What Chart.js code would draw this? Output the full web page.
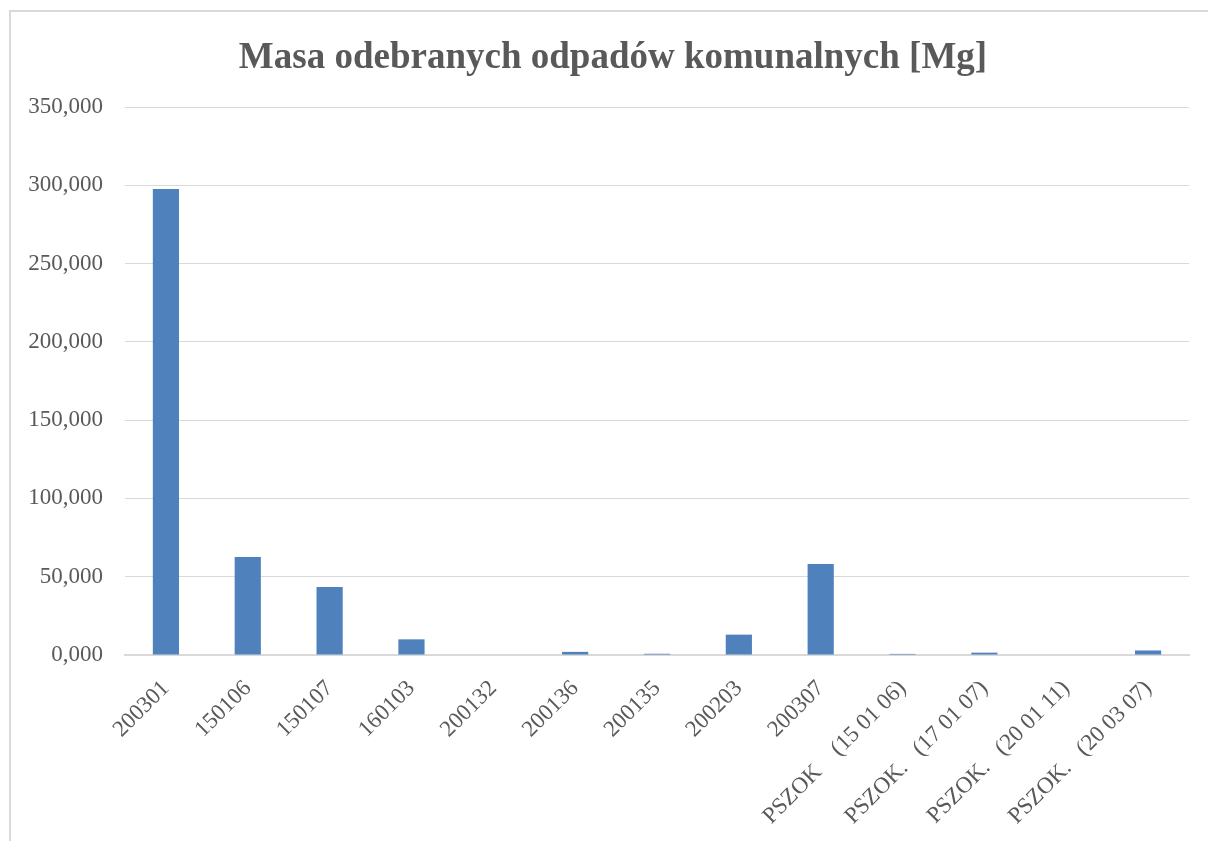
<!DOCTYPE html>
<html lang="pl">
<head>
<meta charset="utf-8">
<title>Masa odebranych odpadów komunalnych</title>
<script src="https://cdn.jsdelivr.net/npm/chart.js@4/dist/chart.umd.min.js"></script>
<style>
  html, body { margin: 0; padding: 0; background: #fff; overflow: hidden; }
  #wrap { position: relative; width: 1208px; height: 841px; overflow: hidden; }
  #frame {
    position: absolute; left: 9px; top: 10px; width: 1220px; height: 850px;
    border: 2px solid #d9d9d9; box-sizing: border-box; pointer-events: none;
  }
  #chart { position: absolute; left: 0; top: 0; }
</style>
</head>
<body>
<div id="wrap">
  <div id="frame"></div>
  <canvas id="chart" width="1208" height="841"></canvas>
</div>
<script>
// Kody odpadów (kategorie) i masa w Mg
const categories = [
  "200301", "150106", "150107", "160103", "200132", "200136", "200135",
  "200203", "200307",
  "PSZOK    (15 01 06)", "PSZOK.   (17 01 07)", "PSZOK.   (20 01 11)", "PSZOK.   (20 03 07)"
];
const massMg = [297.6, 62.6, 43.4, 10.0, 0, 2.0, 0.8, 13.0, 58.1, 0.7, 1.5, 0, 2.9];
const yTicks = [0, 50, 100, 150, 200, 250, 300, 350];
const chartTitle = "Masa odebranych odpadów komunalnych [Mg]";

const textColor = "#595959";
const gridColor = "#d9d9d9";
const serif = "'Liberation Serif', 'Times New Roman', serif";

// Polish number format: 350,000
const fmtMg = (v) => (+v).toFixed(3).replace(".", ",");

/* title centred on the outer frame (built-in title centres on the canvas) */
const frameTitle = {
  id: "frameTitle",
  afterDraw(chart, _args, opts) {
    const ctx = chart.ctx;
    ctx.save();
    ctx.fillStyle = opts.color;
    ctx.font = opts.font;
    ctx.textAlign = "center";
    ctx.textBaseline = "middle";
    ctx.fillText(opts.text, opts.x, opts.y);
    ctx.restore();
  }
};

new Chart(document.getElementById("chart"), {
  type: "bar",
  data: {
    labels: categories,
    datasets: [{
      label: "Masa [Mg]",
      data: massMg,
      backgroundColor: "#4f81bd",
      borderWidth: 0,
      barPercentage: 0.32,
      categoryPercentage: 1.0
    }]
  },
  plugins: [frameTitle],
  options: {
    responsive: false,
    animation: false,
    layout: { padding: { left: 0, right: 19, top: 107, bottom: 0 } },
    plugins: {
      legend: { display: false },
      tooltip: { enabled: false },
      title: { display: false },
      frameTitle: {
        text: chartTitle,
        color: textColor,
        font: "bold 37px " + serif,
        x: 613,
        y: 58
      }
    },
    scales: {
      x: {
        grid: { display: false },
        border: { display: true, color: gridColor, width: 2 },
        ticks: {
          color: textColor,
          font: { family: serif, size: 23 },
          autoSkip: false,
          minRotation: 45,
          maxRotation: 45,
          padding: 12
        },
        afterFit: (s) => { s.height = 186; }
      },
      y: {
        min: 0,
        max: 350,
        afterBuildTicks: (s) => { s.ticks = yTicks.map(v => ({ value: v })); },
        grid: { color: gridColor, lineWidth: 1, drawTicks: false },
        border: { display: false },
        ticks: {
          color: textColor,
          font: { family: serif, size: 23 },
          padding: 22,
          callback: (v) => fmtMg(v)
        },
        afterFit: (s) => { s.width = 125; }
      }
    }
  }
});
</script>
</body>
</html>
